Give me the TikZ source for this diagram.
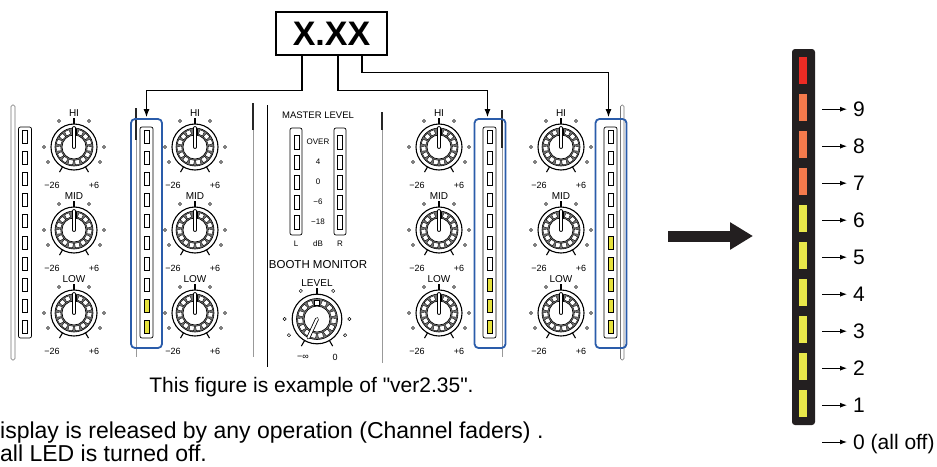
\documentclass[tikz,border=0pt]{standalone}
\usepackage{fontspec}
\setmainfont{Liberation Sans}
\newfontfamily\plainquotes{Liberation Sans}
\usepackage{xcolor}
\usepackage{tikz}
\usetikzlibrary{arrows.meta}
\definecolor{selblue}{RGB}{42,92,170}
\definecolor{ledyellow}{RGB}{230,226,60}
\definecolor{segred}{RGB}{236,43,36}
\definecolor{segorange}{RGB}{244,122,76}
\definecolor{segyellow}{RGB}{232,231,74}
\definecolor{meterblack}{RGB}{35,31,32}
\tikzset{
  display/.style={draw, line width=1.2pt, minimum width=111pt, minimum height=43pt,
    inner sep=0pt, font=\fontsize{34}{34}\selectfont\bfseries},
  link/.style={line width=1.1pt, -{Latex[length=8pt,width=6pt]}, shorten >=1pt},
  meter box/.style={draw=selblue, line width=1.8pt, rounded corners=4pt,
    minimum width=31pt, minimum height=229pt, inner sep=0pt},
  strip/.style={draw, line width=0.7pt, rounded corners=2pt, minimum width=13pt,
    minimum height=211pt, inner sep=0pt},
  led/.style={draw, line width=0.8pt, fill=#1, minimum width=5pt, minimum height=13pt,
    inner sep=0pt},
  fader grey/.style={line width=1pt, black!40},
  fader dark/.style={line width=2.4pt, black!85},
  slot/.style={line width=0.6pt, black!55, rounded corners=1.5pt},
  divider/.style={line width=0.9pt},
  knob ring/.style={line width=1.1pt, fill=white},
  knurl/.style={line width=0.6pt, fill=black!55, even odd rule},
  knurl tooth/.style={line width=0.4pt, fill=white},
  knob label/.style={inner sep=0pt, font=\fontsize{10}{10}\selectfont},
  scale label/.style={inner sep=0pt, font=\fontsize{9}{9}\selectfont},
  small label/.style={inner sep=0pt, font=\fontsize{8}{8}\selectfont},
  booth label/.style={inner sep=0pt, font=\fontsize{11.5}{11.5}\selectfont},
  level meter/.style={fill=meterblack, rounded corners=3pt, minimum width=23pt,
    minimum height=376pt, inner sep=0pt},
  seg/.style={minimum width=8pt, minimum height=27pt, inner sep=0pt},
  level label/.style={inner sep=0pt, text height=15pt, text depth=0pt,
    font=\fontsize{21}{21}\selectfont},
  level arrow/.style={line width=0.9pt, -{Latex[length=7pt,width=5pt]}},
  push arrow/.style={meterblack, line width=11pt, -{Triangle[length=23pt,width=26pt]}},
  caption/.style={inner sep=0pt, font=\plainquotes\fontsize{21}{21}\selectfont},
  note/.style={inner sep=0pt, font=\fontsize{23}{23}\selectfont},
  pics/knob/.style n args={4}{code={
    \begin{scope}[yscale=-1]
      \draw[knob ring] (0,0) circle (23);
      \draw[knurl] (0,0) circle (19) (0,0) circle (12);
      \foreach \a in {0,24,...,336}
        \draw[knurl tooth, rotate=\a] (-2.3,13.2) rectangle (2.3,17.8);
      \draw[line width=3.8pt, line cap=round] (0,0) -- (#2:19);
      \draw[white, line width=2.2pt, line cap=round] (0,0) -- (#2:19);
      \foreach \a in {90,240,-60}
        \draw[line width=1.1pt] (\a:23) -- (\a:29);
      \foreach \a in {0,60,120,180,210,-30}
        \draw[line width=0.5pt, fill=white] (\a:30) circle (1.5);
      \node[knob label, anchor=south] (-name) at (0,30) {#1};
      \node[scale label] (-min) at (-22,-38) {#3};
      \node[scale label] (-max) at (20,-38) {#4};
    \end{scope}
  }},
}

\begin{document}
\begin{tikzpicture}[x=1pt, y=-1pt]
  \useasboundingbox (0,0) rectangle (937,466);

  % Panel edges
  \draw[slot] (11,105) rectangle (15,360);
  \draw[fader dark] (136,108) -- (136,140);
  \draw[fader grey] (136,140) -- (136,357);
  \draw[fader dark] (253,103) -- (253,130);
  \draw[fader grey] (253,130) -- (253,357);
  \draw[divider] (267,105) -- (267,367);
  \draw[fader dark] (382,112) -- (382,130);
  \draw[fader grey] (382,130) -- (382,363);
  \draw[fader dark] (502,110) -- (502,148);
  \draw[fader grey] (502,148) -- (502,357);
  \draw[slot] (620.5,105) rectangle (624,360);

  % Define nodes
  \node[display] (disp) at (331.5,33.5) {X.XX};

  \node[meter box] (meter_1) at (146.5,233.5) {};
  \node[meter box] (meter_2) at (490,233.5) {};
  \node[meter box] (meter_3) at (611,233.5) {};

  % Channel LED strips
  \foreach \ch/\cx/\lit in {1/25/0, 2/146.5/2, 3/489.5/3, 4/610.5/5} {
    \node[strip] (strip_\ch) at (\cx,232.5) {};
    \foreach \idx in {1,...,10} {
      \ifnum\idx>\numexpr10-\lit\relax\def\ledcol{ledyellow}\else\def\ledcol{white}\fi
      \node[led=\ledcol] (led_\ch_\idx) at (\cx,{136.5+21.2*(\idx-1)}) {};
    }
  }

  % Channel knobs
  \foreach \ch/\cx in {1/74, 2/195, 3/439, 4/561} {
    \foreach \row/\cy/\lab in {hi/147/HI, mid/230/MID, low/313/LOW}
      \pic (knob_\row_\ch) at (\cx,\cy) {knob={\lab}{90}{−26}{+6}};
  }

  % Master section
  \node[knob label, font=\fontsize{9.5}{9.5}\selectfont] (master_title) at (318,115) {MASTER LEVEL};
  \node[strip, minimum width=12pt, minimum height=107pt] (master_l) at (296,181.5) {};
  \node[strip, minimum width=12pt, minimum height=107pt] (master_r) at (340,181.5) {};
  \foreach \idx/\cy/\lab in {1/142/OVER, 2/162/4, 3/182/0, 4/202/−6, 5/222/−18} {
    \node[led=white, minimum height=14pt] (master_l_\idx) at (296.5,\cy) {};
    \node[led=white, minimum height=14pt] (master_r_\idx) at (340,\cy) {};
    \node[small label] (mark_\idx) at (318,\cy) {\lab};
  }
  \node[small label] (master_lab_l) at (296,244) {L};
  \node[small label] (master_lab_db) at (318,244) {dB};
  \node[small label] (master_lab_r) at (340,244) {R};
  \node[booth label] (booth_title) at (318,265) {BOOTH MONITOR};
  \pic[scale=1.08] (knob_booth) at (317,319) {knob={LEVEL}{245}{}{}};
  \node[scale label] (booth_min) at (303,357) {−∞};
  \node[scale label] (booth_max) at (335,357) {0};

  % Connect nodes
  \draw[link] ([xshift=-29.5pt]disp.south) |- ([yshift=28pt]meter_1.north) -- (meter_1.north);
  \draw[link] ([xshift=6.5pt]disp.south) |- ([xshift=-2.5pt,yshift=28pt]meter_2.north)
    -- ([xshift=-2.5pt]meter_2.north);
  \draw[link] ([xshift=30.5pt]disp.south) |- ([xshift=-2.5pt,yshift=46pt]meter_3.north)
    -- ([xshift=-2.5pt]meter_3.north);

  % Level meter
  \coordinate (push_from) at (668,236);
  \coordinate (push_to) at (753,236);
  \draw[push arrow] (push_from) -- (push_to);

  \node[level meter] (meter) at (803.5,237) {};
  \foreach \n/\col in {10/segred, 9/segorange, 8/segorange, 7/segorange, 6/segyellow,
      5/segyellow, 4/segyellow, 3/segyellow, 2/segyellow, 1/segyellow}
    \node[seg, fill=\col] (seg_\n) at (803,{70.2+37*(10-\n)}) {};
  \foreach \n in {9,...,1} {
    \node[level label, anchor=base west] (lvl_\n) at (853,{79.7+37*(10-\n)}) {\n};
    \coordinate (tail_\n) at (822,{72.2+37*(10-\n)});
    \draw[level arrow] (tail_\n) -- ([xshift=-6pt]lvl_\n.west);
  }
  \node[level label, anchor=base west] (lvl_0) at (853,449.5) {0 (all off)};
  \coordinate (tail_0) at (822,442);
  \draw[level arrow] (tail_0) -- ([xshift=-6pt]lvl_0.west);

  % Notes
  \node[caption, anchor=base] (caption) at (311.5,392) {This figure is example of "ver2.35".};
  \node[note, anchor=base west] (note_1) at (0,438) {isplay is released by any operation (Channel faders) .};
  \node[note, anchor=base west] (note_2) at (0,461) {all LED is turned off.};

\end{tikzpicture}
\end{document}
